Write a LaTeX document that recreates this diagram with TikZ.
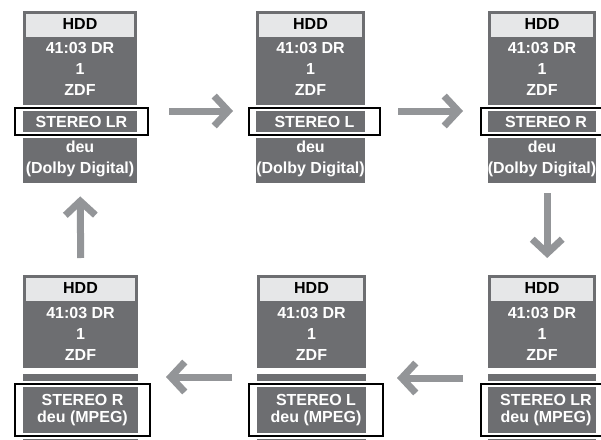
\documentclass[tikz,border=0pt]{standalone}
\usepackage{fontspec}
\setmainfont{Liberation Sans}
\usetikzlibrary{arrows.meta}
\definecolor{panelgrey}{HTML}{6D6E71}
\definecolor{bargrey}{HTML}{E6E7E8}
\definecolor{arrowgrey}{HTML}{939598}
\begin{document}
\begin{tikzpicture}[
        x=1pt, y=-1pt,
        font=\bfseries\fontsize{16}{21}\selectfont,
        body/.style={fill=panelgrey, anchor=north west, inner sep=0pt},
        hddbar/.style={fill=bargrey, anchor=north, inner sep=0pt, minimum height=23pt,
                      text depth=4pt, text=black},
        info/.style={text=white, align=center, anchor=north, inner sep=0pt},
        chan/.style={draw=black, line width=2pt, preaction={draw=white, line width=6pt},
                    anchor=north west, inner sep=0pt, text=white, align=center},
        arrow/.style={draw=arrowgrey, line width=7pt,
                     -{Straight Barb[length=14pt, width=30pt]}}
    ]
        \useasboundingbox (0,0) rectangle (601,439);
        \clip (0,0) rectangle (601,439);

        % top row
        \node[body, minimum width=114pt, minimum height=172pt] (bodya) at (23,11) {};
        \node[hddbar, minimum width=108pt] (hdda) at (80,14) {HDD};
        \node[info] (infoa) at (80,42) {41:03 DR\\1\\ZDF};
        \node[chan, minimum width=133pt, minimum height=27pt] (chana) at (14,107) {STEREO LR};
        \node[info] (auda) at (80,141) {deu\\(Dolby Digital)};

        \node[body, minimum width=109pt, minimum height=172pt] (bodyb) at (256,11) {};
        \node[hddbar, minimum width=103pt] (hddb) at (310.5,14) {HDD};
        \node[info] (infob) at (310.5,42) {41:03 DR\\1\\ZDF};
        \node[chan, minimum width=131pt, minimum height=27pt] (chanb) at (248,107) {STEREO L};
        \node[info] (audb) at (310.5,141) {deu\\(Dolby Digital)};

        \node[body, minimum width=108pt, minimum height=172pt] (bodyc) at (488,11) {};
        \node[hddbar, minimum width=102pt] (hddc) at (542,14) {HDD};
        \node[info] (infoc) at (542,42) {41:03 DR\\1\\ZDF};
        \node[chan, minimum width=130pt, minimum height=27pt] (chanc) at (480,107) {STEREO R};
        \node[info] (audc) at (542,141) {deu\\(Dolby Digital)};

        % bottom row
        \node[body, minimum width=115pt, minimum height=93pt] (bodyd) at (23,275) {};
        \node[body, minimum width=115pt, minimum height=70pt] (lowd) at (23,374) {};
        \node[hddbar, minimum width=109pt] (hddd) at (80.5,278) {HDD};
        \node[info] (infod) at (80.5,307) {41:03 DR\\1\\ZDF};
        \node[chan, minimum width=135pt, minimum height=52pt,
              font=\bfseries\fontsize{16}{17}\selectfont] (chand) at (14,383) {STEREO R\\deu (MPEG)};

        \node[body, minimum width=109pt, minimum height=93pt] (bodye) at (257,275) {};
        \node[body, minimum width=109pt, minimum height=70pt] (lowe) at (257,374) {};
        \node[hddbar, minimum width=103pt] (hdde) at (311.5,278) {HDD};
        \node[info] (infoe) at (311.5,307) {41:03 DR\\1\\ZDF};
        \node[chan, minimum width=134pt, minimum height=52pt,
              font=\bfseries\fontsize{16}{17}\selectfont] (chane) at (248,383) {STEREO L\\deu (MPEG)};

        \node[body, minimum width=108pt, minimum height=93pt] (bodyf) at (488,275) {};
        \node[body, minimum width=108pt, minimum height=70pt] (lowf) at (488,374) {};
        \node[hddbar, minimum width=102pt] (hddf) at (542,278) {HDD};
        \node[info] (infof) at (542,307) {41:03 DR\\1\\ZDF};
        \node[chan, minimum width=130pt, minimum height=52pt,
              font=\bfseries\fontsize{16}{17}\selectfont] (chanf) at (480,383) {STEREO LR\\deu (MPEG)};

        % arrows
        \draw[arrow] ([xshift=20pt, yshift=10.5pt]chana.east) -- ([xshift=-15pt, yshift=10.5pt]chanb.west);
        \draw[arrow] ([xshift=17pt, yshift=10.5pt]chanb.east) -- ([xshift=-17pt, yshift=10.5pt]chanc.west);
        \draw[arrow] ([xshift=5pt, yshift=-10pt]bodyc.south) -- ([xshift=5pt, yshift=17pt]bodyf.north);
        \draw[arrow] ([xshift=-17pt, yshift=32pt]chanf.west) -- ([xshift=13pt, yshift=32pt]chane.east);
        \draw[arrow] ([xshift=-16pt, yshift=33pt]chane.west) -- ([xshift=15pt, yshift=33pt]chand.east);
        \draw[arrow] ([yshift=17pt]bodyd.north) -- ([yshift=-13pt]bodya.south);
    \end{tikzpicture}
\end{document}
